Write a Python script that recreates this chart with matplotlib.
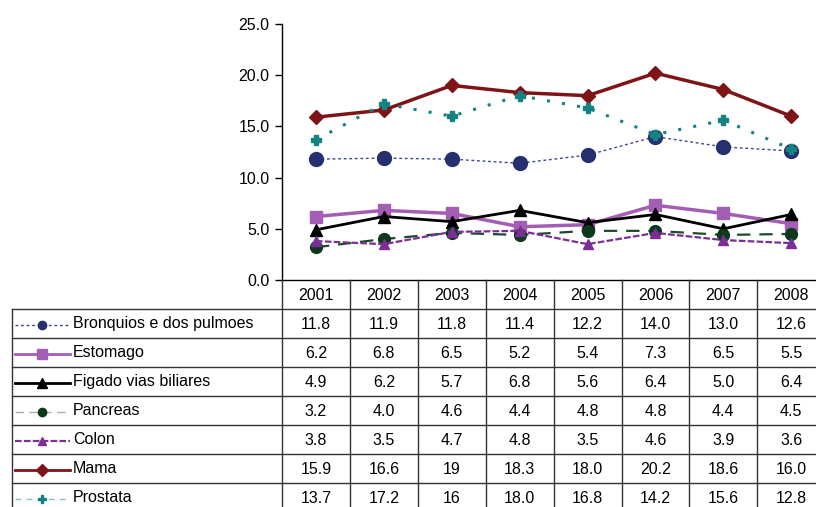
import numpy as np
import matplotlib
matplotlib.use("Agg")
from matplotlib import pyplot as plt

plt.rcParams["font.family"] = ["Liberation Sans", "DejaVu Sans"]
plt.rcParams["font.size"] = 11.5

years = ["2001", "2002", "2003", "2004", "2005", "2006", "2007", "2008"]

bronquios = [11.8, 11.9, 11.8, 11.4, 12.2, 14.0, 13.0, 12.6]
estomago = [6.2, 6.8, 6.5, 5.2, 5.4, 7.3, 6.5, 5.5]
figado = [4.9, 6.2, 5.7, 6.8, 5.6, 6.4, 5.0, 6.4]
pancreas = [3.2, 4.0, 4.6, 4.4, 4.8, 4.8, 4.4, 4.5]
colon = [3.8, 3.5, 4.7, 4.8, 3.5, 4.6, 3.9, 3.6]
mama = [15.9, 16.6, 19, 18.3, 18.0, 20.2, 18.6, 16.0]
prostata = [13.7, 17.2, 16, 18.0, 16.8, 14.2, 15.6, 12.8]

# labels as printed in the table (some cells lack the decimal)
mama_txt = ["15.9", "16.6", "19", "18.3", "18.0", "20.2", "18.6", "16.0"]
prostata_txt = ["13.7", "17.2", "16", "18.0", "16.8", "14.2", "15.6", "12.8"]

series = [
    ("Bronquios e dos pulmoes", bronquios, None,
     dict(color="#3b4590", ls=(0, (2, 2)), lw=1.0, marker="o", ms=10, mfc="#25306e", mec="#25306e"), 6),
    ("Estomago", estomago, None,
     dict(color="#a35db3", ls="-", lw=2.5, marker="s", ms=8, mfc="#a35db3", mec="#a35db3"), 6.5),
    ("Figado vias biliares", figado, None,
     dict(color="black", ls="-", lw=2.0, marker="^", ms=8.5, mfc="black", mec="black"), 6.5),
    ("Pancreas", pancreas, None,
     dict(color="#1d4a2b", ls=(0, (6, 4)), lw=1.6, marker="o", ms=8.5, mfc="#0b3a1b", mec="#0b3a1b"), 6),
    ("Colon", colon, None,
     dict(color="#7b2f96", ls=(0, (3, 1)), lw=1.6, marker="^", ms=7.5, mfc="#7b2f96", mec="#7b2f96"), 6),
    ("Mama", mama, mama_txt,
     dict(color="#7f1416", ls="-", lw=2.5, marker="D", ms=7, mfc="#7f1416", mec="#7f1416"), 6),
    ("Prostata", prostata, prostata_txt,
     dict(color="#158383", ls=(0, (1, 4)), lw=2.2, marker="P", ms=7, mfc="#158383", mec="#158383"), 5.5),
]
legend_style = {
    "Pancreas": ("#9fb2a4", (0, (6, 4)), 1.0),
    "Prostata": ("#7fc0c0", (0, (4, 4)), 1.0),
}

W, H = 816, 507
fig = plt.figure(figsize=(W / 100, H / 100), dpi=100)

col_w = 67.9
x0 = 282
x1 = x0 + col_w * len(years)
y_top, y_zero = 24, 280
row_h = 29

ax = fig.add_axes([x0 / W, (H - y_zero) / H, (x1 - x0) / W, (y_zero - y_top) / H])
xs = np.arange(len(years))
for name, vals, _, st, _ in series:
    ax.plot(xs, vals, clip_on=False, **st)
ax.set_xlim(-0.5, len(years) - 0.5)
ax.set_ylim(0, 25)
ax.set_yticks(np.arange(0, 25.1, 5))
ax.set_yticklabels([f"{v:.1f}" for v in np.arange(0, 25.1, 5)])
ax.set_xticks([])
ax.tick_params(axis="y", length=5, width=1, color="black", pad=4)
for s in ("top", "right"):
    ax.spines[s].set_visible(False)
ax.spines["left"].set_linewidth(1)
ax.spines["bottom"].set_linewidth(1)

# data table below the plot, in column units
x_left = -0.5 - (x0 - 12) / col_w
n_rows = len(series) + 1
tab = fig.add_axes([12 / W, (H - y_zero - n_rows * row_h) / H,
                    (x1 - 12) / W, n_rows * row_h / H])
tab.set_xlim(x_left, len(years) - 0.5)
tab.set_ylim(n_rows - 0.5, -0.5)
tab.axis("off")

lc, lwid = "#333333", 1.0
tab.plot([-0.5, -0.5], [-0.5, n_rows - 0.5], color=lc, lw=lwid, clip_on=False)
tab.plot([x_left, x_left], [0.5, n_rows - 0.5], color=lc, lw=lwid, clip_on=False)
for i in range(len(years) - 1):
    tab.plot([i + 0.5, i + 0.5], [-0.5, n_rows - 0.5], color=lc, lw=lwid, clip_on=False)
for r in range(1, n_rows):
    tab.plot([x_left, len(years) - 0.5], [r - 0.5, r - 0.5], color=lc, lw=lwid, clip_on=False)

for i, y in enumerate(years):
    tab.text(i, 0.02, y, ha="center", va="center")

px = 1 / col_w
for r, (name, vals, txt, st, lms) in enumerate(series, start=1):
    labels = txt if txt else [f"{v:.1f}" for v in vals]
    for i, t in enumerate(labels):
        tab.text(i, r + 0.02, t, ha="center", va="center")
    lcol, lls, llw = legend_style.get(name, (st["color"], st["ls"], min(st["lw"], 2.0)))
    tab.plot([x_left + 3 * px, x_left + 58 * px], [r + 0.05, r + 0.05],
             color=lcol, ls=lls, lw=llw, clip_on=False)
    tab.plot([x_left + 30 * px], [r + 0.05], ls="none", marker=st["marker"], ms=lms,
             mfc=st["mfc"], mec=st["mec"], clip_on=False)
    tab.text(x_left + 61 * px, r, name, ha="left", va="center")

fig.savefig("out.png", dpi=100)
